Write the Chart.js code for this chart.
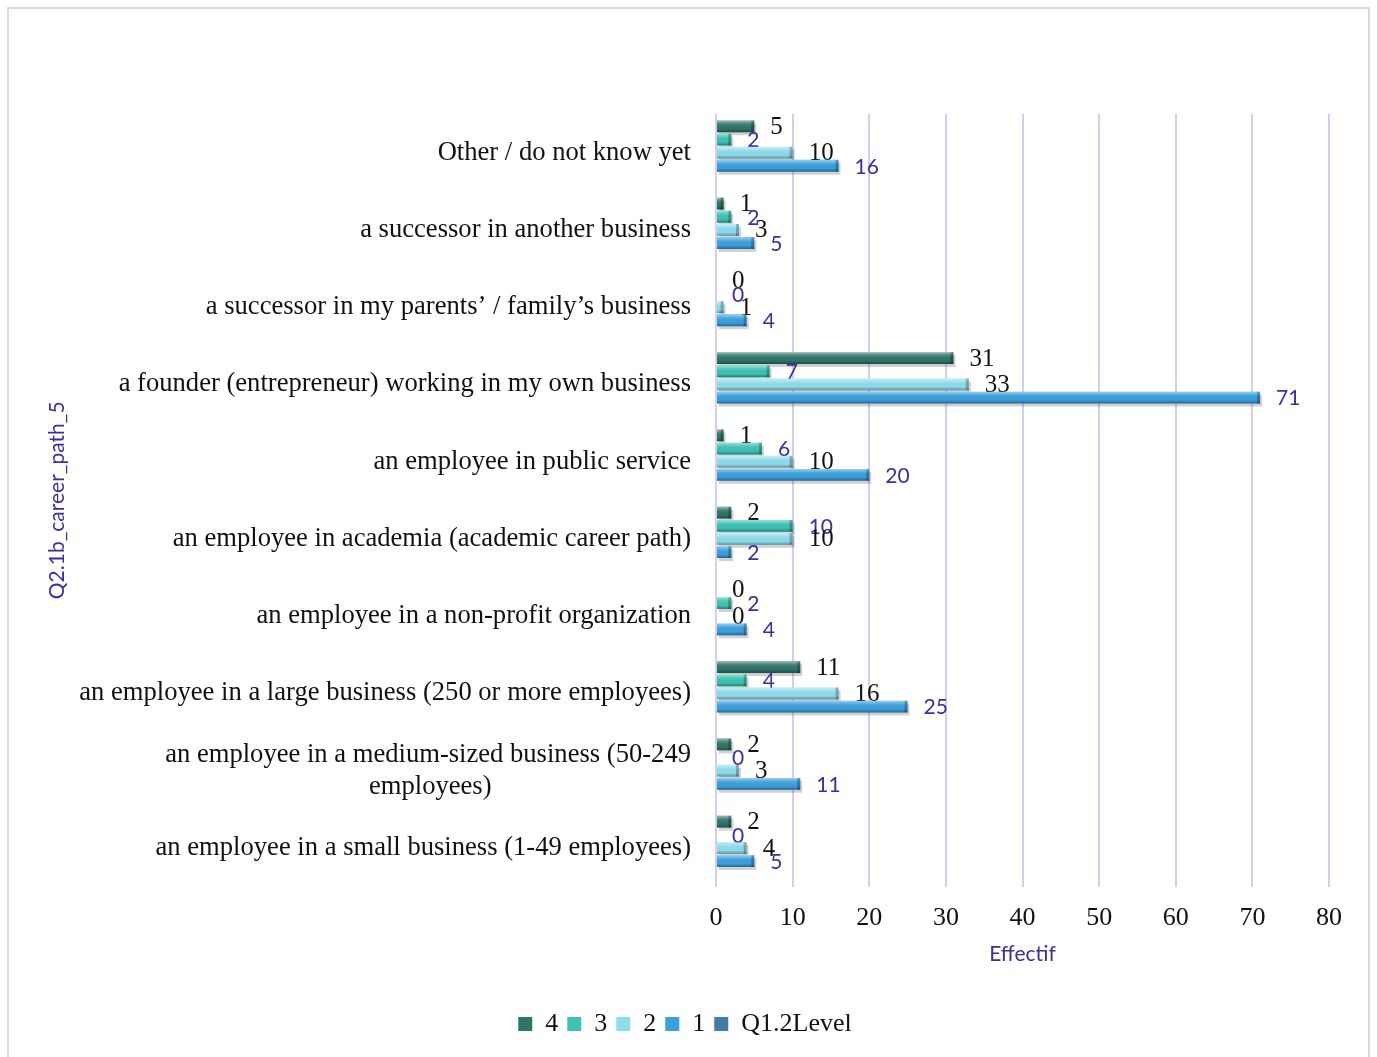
<!DOCTYPE html>
<html>
<head>
<meta charset="utf-8">
<script src="https://cdn.jsdelivr.net/npm/chart.js@4.4.1/dist/chart.umd.min.js"></script>
<style>
  html, body { margin: 0; padding: 0; background: #fff; }
  #wrap { position: absolute; left: 7px; top: 7px; width: 1363px; height: 1060px; border: 2px solid #dcd7f0; box-sizing: border-box; }
</style>
</head>
<body>
<div id="wrap"><canvas id="chart"></canvas></div>
<script>
// --- Data ---
// second line of the wrapped label is padded so it sits centred under the first
const categories = [
    'Other / do not know yet',
    'a successor in another business',
    'a successor in my parents\u2019 / family\u2019s business',
    'a founder (entrepreneur) working in my own business',
    'an employee in public service',
    'an employee in academia (academic career path)',
    'an employee in a non-profit organization',
    'an employee in a large business (250 or more employees)',
    ['an employee in a medium-sized business (50-249', 'employees)' + '\u00a0'.repeat(30)],
    'an employee in a small business (1-49 employees)'
];
const level4 = [5, 1, 0, 31, 1, 2, 0, 11, 2, 2];
const level3 = [2, 2, 0, 7, 6, 10, 2, 4, 0, 0];
const level2 = [10, 3, 1, 33, 10, 10, 0, 16, 3, 4];
const level1 = [16, 5, 4, 71, 20, 2, 4, 25, 11, 5];
const levelEmpty = [];
const xTicks = [0, 10, 20, 30, 40, 50, 60, 70, 80];

const blueText = '#3b2f9e';
const serif = "'Liberation Serif', 'Times New Roman', serif";
const sans = "Lato, 'Open Sans', sans-serif";

// label style per series: Excel drew alternating fonts
const labelStyle = [
    { color: '#111', font: '25px ' + serif },
    { color: blueText, font: '21px ' + sans },
    { color: '#111', font: '25px ' + serif },
    { color: blueText, font: '21px ' + sans }
];

// --- Bevel + value labels ---
const bevelPlugin = {
    id: 'bevel',
    beforeDatasetsDraw(chart) {
        const ctx = chart.ctx;
        ctx.save();
        chart.data.datasets.forEach((ds, i) => {
            const meta = chart.getDatasetMeta(i);
            meta.data.forEach(bar => {
                const top = bar.y - bar.height / 2;
                const w = bar.x - bar.base;
                if (w <= 0) return;
                ctx.fillStyle = 'rgba(0,0,0,0.18)';
                ctx.fillRect(bar.base + 2, top + 3, w, bar.height);
            });
        });
        ctx.restore();
    },
    afterDatasetsDraw(chart) {
        const ctx = chart.ctx;
        ctx.save();
        chart.data.datasets.forEach((ds, i) => {
            const meta = chart.getDatasetMeta(i);
            if (meta.hidden) return;
            meta.data.forEach((bar, j) => {
                const top = bar.y - bar.height / 2;
                const h = bar.height;
                const w = bar.x - bar.base;
                if (w > 0) {
                    const g = ctx.createLinearGradient(0, top, 0, top + h);
                    g.addColorStop(0, 'rgba(255,255,255,0.5)');
                    g.addColorStop(0.3, 'rgba(255,255,255,0.1)');
                    g.addColorStop(0.7, 'rgba(0,0,0,0)');
                    g.addColorStop(1, 'rgba(0,0,0,0.35)');
                    ctx.fillStyle = g;
                    ctx.fillRect(bar.base, top, w, h);
                    ctx.fillStyle = 'rgba(0,0,0,0.25)';
                    ctx.fillRect(bar.x - Math.min(3, w), top, Math.min(3, w), h);
                }
                const st = labelStyle[i];
                if (!st) return;
                ctx.font = st.font;
                ctx.fillStyle = st.color;
                ctx.textAlign = 'left';
                ctx.textBaseline = 'middle';
                ctx.fillText(String(ds.data[j]), bar.x + 16, bar.y + 1);
            });
        });
        ctx.restore();
    }
};

const datasets = [
    { label: '4', data: level4, backgroundColor: '#2f7469', borderColor: '#1d4d46' },
    { label: '3', data: level3, backgroundColor: '#3cc2b2', borderColor: '#1f8a7e' },
    { label: '2', data: level2, backgroundColor: '#8fdcec', borderColor: '#4a9db3' },
    { label: '1', data: level1, backgroundColor: '#3a9fdc', borderColor: '#1d6aa3' },
    { label: 'Q1.2Level', data: levelEmpty, backgroundColor: '#3d7f9e', borderColor: '#2a5d75' }
].map(d => Object.assign(d, { borderWidth: 0, categoryPercentage: 0.85, barPercentage: 0.9 }));

new Chart(document.getElementById('chart'), {
    type: 'bar',
    data: { labels: categories, datasets: datasets },
    options: {
        indexAxis: 'y',
        responsive: true,
        maintainAspectRatio: false,
        animation: false,
        layout: { padding: { top: 105, right: 39, bottom: 18, left: 32 } },
        scales: {
            x: {
                min: 0, max: 80,
                afterBuildTicks: axis => { axis.ticks = xTicks.map(v => ({ value: v })); },
                grid: { color: '#d3cdef', lineWidth: 2, drawTicks: false },
                border: { display: false },
                ticks: { color: '#111', font: { family: serif, size: 26 }, padding: 16 },
                title: { display: true, text: 'Effectif', color: blueText, font: { family: sans, size: 21 }, padding: { top: -8, bottom: 35 } }
            },
            y: {
                // the long labels would otherwise be capped at half the width
                afterFit: s => { s.width = 675; },
                grid: { display: false },
                border: { display: false },
                ticks: { color: '#111', font: { family: serif, size: 26.6 }, padding: 17 },
                title: { display: true, text: 'Q2.1b_career_path_5', color: blueText, font: { family: sans, size: 21 }, padding: { bottom: 20 } }
            }
        },
        plugins: {
            legend: {
                position: 'bottom',
                labels: { color: '#111', font: { family: serif, size: 26 }, boxWidth: 14, boxHeight: 14, padding: 9 }
            },
            tooltip: { enabled: false }
        }
    },
    plugins: [bevelPlugin]
});
</script>
</body>
</html>
